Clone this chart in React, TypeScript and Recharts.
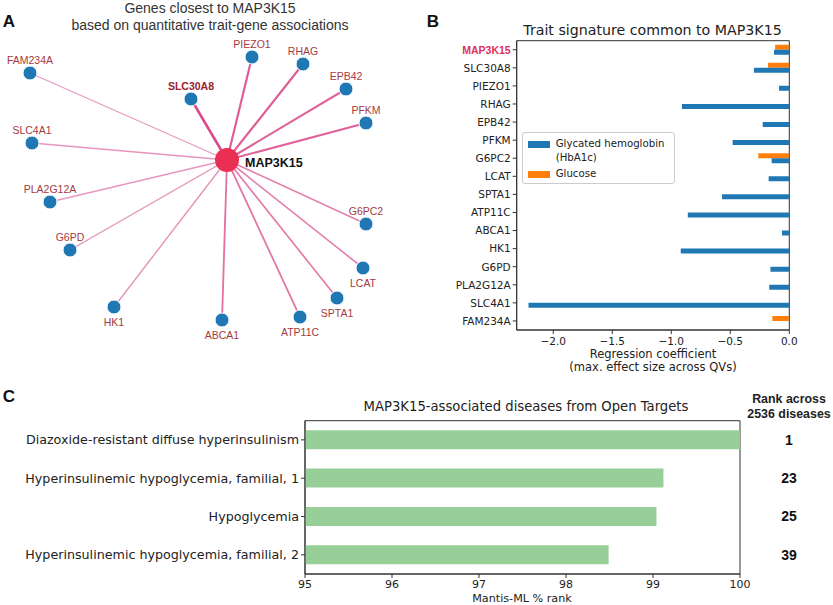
import React from 'react';
import {
  ScatterChart,
  Scatter,
  BarChart,
  Bar,
  XAxis,
  YAxis,
  ReferenceArea,
  Legend,
  LabelList,
} from 'recharts';

// ---- panel A: gene network (layout coordinates of the drawn graph)
const hubGene = { name: 'MAP3K15', x: 227, y: 160 };
const networkGenes = [
  'FAM234A', 'SLC30A8', 'PIEZO1', 'RHAG', 'EPB42', 'PFKM', 'SLC4A1', 'PLA2G12A',
  'G6PD', 'G6PC2', 'LCAT', 'SPTA1', 'ATP11C', 'ABCA1', 'HK1',
];
const networkX = [30, 191, 252, 303, 346, 366, 32, 50, 70, 366, 363, 337, 300, 222, 114];
const networkY = [73, 99, 57, 64, 89, 123, 143, 202, 250, 224, 268, 298, 317, 320, 307];
const edgeWeight = [0.2, 1, 0.8, 0.8, 0.75, 0.75, 0.25, 0.25, 0.3, 0.45, 0.45, 0.5, 0.55, 0.6, 0.3];
const labelBelow = ['LCAT', 'SPTA1', 'ATP11C', 'ABCA1', 'HK1'];
const boldGenes = ['SLC30A8'];

// ---- panel B: regression coefficients
const traitGenes = [
  'MAP3K15', 'SLC30A8', 'PIEZO1', 'RHAG', 'EPB42', 'PFKM', 'G6PC2', 'LCAT',
  'SPTA1', 'ATP11C', 'ABCA1', 'HK1', 'G6PD', 'PLA2G12A', 'SLC4A1', 'FAM234A',
];
const hba1c = [-0.13, -0.3, -0.087, -0.91, -0.225, -0.48, -0.15, -0.175, -0.57, -0.86, -0.062, -0.92, -0.16, -0.17, -2.21, null];
const glucose = [-0.12, -0.18, null, null, null, null, -0.263, null, null, null, null, null, null, null, null, -0.144];
const coefTicks = [-2, -1.5, -1, -0.5, 0];
const coefDomain = [-2.31, 0];

// ---- panel C: Open Targets diseases
const diseases = [
  'Diazoxide-resistant diffuse hyperinsulinism',
  'Hyperinsulinemic hypoglycemia, familial, 1',
  'Hypoglycemia',
  'Hyperinsulinemic hypoglycemia, familial, 2',
];
const mantisRank = [100, 99.12, 99.04, 98.49];
const diseaseRank = [1, 23, 25, 39];
const rankTicks = [95, 96, 97, 98, 99, 100];

const BLUE = '#1f77b4';
const ORANGE = '#ff7f0e';
const GREEN = '#98cf99';
const HUB_RED = '#ea2f52';
const AXIS = '#333';
const DEJAVU = '"DejaVu Sans", sans-serif';
const ARIAL = '"Liberation Sans", Arial, sans-serif';

const geneNodes = networkGenes.map((name, i) => ({
  name,
  x: networkX[i],
  y: networkY[i],
  weight: edgeWeight[i],
}));

const traitData = traitGenes.map((gene, i) => ({ gene, hba1c: hba1c[i], glucose: glucose[i] }));
const traitSeries = [
  { key: 'glucose', name: 'Glucose', color: ORANGE },
  { key: 'hba1c', name: 'Glycated hemoglobin\n(HbA1c)', color: BLUE },
];

const diseaseData = diseases.map((disease, i) => ({
  disease,
  mantis: mantisRank[i],
  rank: diseaseRank[i],
}));

function edgeColor(w: number) {
  const a = [234, 176, 206];
  const b = [220, 72, 136];
  const c = a.map((v, i) => Math.round(v + (b[i] - v) * w));
  return `rgb(${c[0]},${c[1]},${c[2]})`;
}

function Txt({ x, y, size, children, bold = false, family = DEJAVU, color = '#222', align = 'center' }: any) {
  const tx = align === 'center' ? '-50%' : align === 'right' ? '-100%' : '0';
  return (
    <div
      style={{
        position: 'absolute',
        left: x,
        top: y,
        transform: `translate(${tx}, -50%)`,
        fontSize: size,
        fontFamily: family,
        fontWeight: bold ? 700 : 400,
        color,
        lineHeight: 1,
        whiteSpace: 'nowrap',
      }}
    >
      {children}
    </div>
  );
}

const GeneNode = (props: any) => {
  const { cx, cy, payload } = props;
  const below = labelBelow.includes(payload.name);
  const bold = boldGenes.includes(payload.name);
  return (
    <g>
      <circle cx={cx} cy={cy} r={7} fill={BLUE} stroke="#fff" strokeWidth={1} />
      <text
        x={cx}
        y={below ? cy + 15 : cy - 13}
        dy={3.8}
        textAnchor="middle"
        fontSize={10.5}
        fontFamily={ARIAL}
        fontWeight={bold ? 700 : 400}
        fill={bold ? '#9b2030' : '#a53b42'}
      >
        {payload.name}
      </text>
    </g>
  );
};

const HubNode = (props: any) => {
  const { cx, cy, payload } = props;
  return (
    <g>
      <circle cx={cx} cy={cy} r={12} fill={HUB_RED} />
      <text x={cx + 18} y={cy + 2} dy={4.5} fontSize={12.5} fontFamily={ARIAL} fontWeight={700} fill="#111">
        {payload.name}
      </text>
    </g>
  );
};

const GeneTick = (props: any) => {
  const { x, y, payload } = props;
  const hub = payload.value === hubGene.name;
  return (
    <text
      x={x}
      y={y}
      dy={3.8}
      textAnchor="end"
      fontSize={10.5}
      fontFamily={hub ? ARIAL : DEJAVU}
      fontWeight={hub ? 700 : 400}
      fill={hub ? '#e0305a' : '#222'}
    >
      {payload.value}
    </text>
  );
};

const DiseaseTick = (props: any) => {
  const { x, y, payload } = props;
  return (
    <text x={x} y={y} dy={4.5} textAnchor="end" fontSize={12.7} fontFamily={DEJAVU} fill="#222">
      {payload.value}
    </text>
  );
};

const fmtCoef = (v: number) => (v < 0 ? '\u2212' : '') + Math.abs(v).toFixed(1);

const TraitLegend = (props: any) => {
  const items = [...(props.payload || [])].reverse();
  return (
    <div
      style={{
        width: 153,
        height: 52,
        boxSizing: 'border-box',
        border: '1px solid #ccc',
        borderRadius: 3,
        background: 'rgba(255,255,255,0.85)',
        padding: '4px 0 0 5px',
        fontFamily: DEJAVU,
        fontSize: 10.2,
        color: '#222',
      }}
    >
      {items.map((it: any) => (
        <div key={it.value} style={{ display: 'flex', alignItems: 'flex-start', marginBottom: 2 }}>
          <span
            style={{
              display: 'inline-block',
              width: 22,
              height: 7,
              marginTop: 3.5,
              background: it.color,
              flex: 'none',
            }}
          />
          <span style={{ marginLeft: 6, whiteSpace: 'pre-line', lineHeight: '14px' }}>{it.value}</span>
        </div>
      ))}
    </div>
  );
};

const RankLabel = (props: any) => {
  const vb = props.viewBox ?? props;
  const cy = vb.y + vb.height / 2;
  return (
    <text x={789} y={cy} dy={5} textAnchor="middle" fontSize={14} fontFamily={ARIAL} fontWeight={700} fill="#111">
      {props.value}
    </text>
  );
};

export default function App() {
  return (
    <div style={{ position: 'absolute', left: 0, top: 0, width: 833, height: 605, background: '#fff' }}>
      {/* Panel A */}
      <Txt x={9} y={21} size={17} bold family={ARIAL} color="#111">A</Txt>
      <Txt x={210} y={7.5} size={14} family={ARIAL} color="#333">Genes closest to MAP3K15</Txt>
      <Txt x={210} y={24.5} size={14} family={ARIAL} color="#333">based on quantitative trait-gene associations</Txt>
      <div style={{ position: 'absolute', left: 0, top: 0 }}>
        <ScatterChart width={420} height={350} margin={{ top: 0, right: 0, bottom: 0, left: 0 }}>
          <XAxis type="number" dataKey="x" domain={[0, 420]} hide />
          <YAxis type="number" dataKey="y" domain={[0, 350]} reversed hide />
          {geneNodes.map((g) => (
            <Scatter
              key={'edge-' + g.name}
              data={[hubGene, g]}
              line={{ stroke: edgeColor(g.weight), strokeWidth: 0.9 + 1.6 * g.weight }}
              shape={() => <g />}
              isAnimationActive={false}
            />
          ))}
          <Scatter data={geneNodes} shape={GeneNode} isAnimationActive={false} />
          <Scatter data={[hubGene]} shape={HubNode} isAnimationActive={false} />
        </ScatterChart>
      </div>

      {/* Panel B */}
      <Txt x={433} y={21} size={17} bold family={ARIAL} color="#111">B</Txt>
      <Txt x={652.5} y={29.5} size={14.2} color="#222">Trait signature common to MAP3K15</Txt>
      <Txt x={653} y={355} size={11.5} color="#222">Regression coefficient</Txt>
      <Txt x={653} y={368} size={11.5} color="#222">(max. effect size across QVs)</Txt>
      <div style={{ position: 'absolute', left: 420, top: 0 }}>
        <BarChart
          width={413}
          height={380}
          data={traitData}
          layout="vertical"
          margin={{ top: 40.7, right: 43.7, left: 0, bottom: 30 }}
          barSize={5}
          barGap={0}
        >
          <XAxis
            type="number"
            domain={coefDomain}
            ticks={coefTicks}
            tickFormatter={fmtCoef}
            height={20}
            tickSize={4}
            tickMargin={4}
            tick={{ fontSize: 10.5, fill: '#222', fontFamily: DEJAVU }}
            tickLine={{ stroke: AXIS }}
            axisLine={{ stroke: AXIS }}
            allowDataOverflow
          />
          <YAxis
            type="category"
            dataKey="gene"
            width={96.7}
            interval={0}
            tickSize={4}
            tick={<GeneTick />}
            tickLine={{ stroke: AXIS }}
            axisLine={{ stroke: AXIS }}
          />
          <ReferenceArea x1={coefDomain[0]} x2={coefDomain[1]} fill="none" fillOpacity={0} stroke={AXIS} strokeOpacity={1} />
          {traitSeries.map((s) => (
            <Bar key={s.key} dataKey={s.key} name={s.name} fill={s.color} isAnimationActive={false} />
          ))}
          <Legend
            layout="vertical"
            align="center"
            verticalAlign="middle"
            content={TraitLegend}
            wrapperStyle={{ left: 101.7, top: 132.3, width: 153, height: 52 }}
          />
        </BarChart>
      </div>

      {/* Panel C */}
      <Txt x={9} y={396} size={17} bold family={ARIAL} color="#111">C</Txt>
      <Txt x={526} y={407} size={13.2} color="#222">MAP3K15-associated diseases from Open Targets</Txt>
      <Txt x={522} y={598.5} size={11.2} color="#222">Mantis-ML % rank</Txt>
      <Txt x={789} y={399.3} size={12.4} bold family={ARIAL} color="#222">Rank across</Txt>
      <Txt x={789} y={414} size={12.4} bold family={ARIAL} color="#222">2536 diseases</Txt>
      <div style={{ position: 'absolute', left: 0, top: 375 }}>
        <BarChart
          width={833}
          height={230}
          data={diseaseData}
          layout="vertical"
          margin={{ top: 45.7, right: 93, left: 0, bottom: 15 }}
          barCategoryGap="25%"
        >
          <XAxis
            type="number"
            domain={[95, 100]}
            ticks={rankTicks}
            height={16}
            tickSize={4}
            tick={{ fontSize: 11, fill: '#222', fontFamily: DEJAVU }}
            tickLine={{ stroke: AXIS }}
            axisLine={{ stroke: AXIS }}
            allowDataOverflow
          />
          <YAxis
            type="category"
            dataKey="disease"
            width={305}
            interval={0}
            tickSize={4}
            tick={<DiseaseTick />}
            tickLine={{ stroke: AXIS }}
            axisLine={{ stroke: AXIS }}
          />
          <ReferenceArea x1={95} x2={100} fill="none" fillOpacity={0} stroke={AXIS} strokeOpacity={1} />
          <Bar dataKey="mantis" fill={GREEN} isAnimationActive={false}>
            <LabelList dataKey="rank" content={RankLabel} />
          </Bar>
        </BarChart>
      </div>
    </div>
  );
}
